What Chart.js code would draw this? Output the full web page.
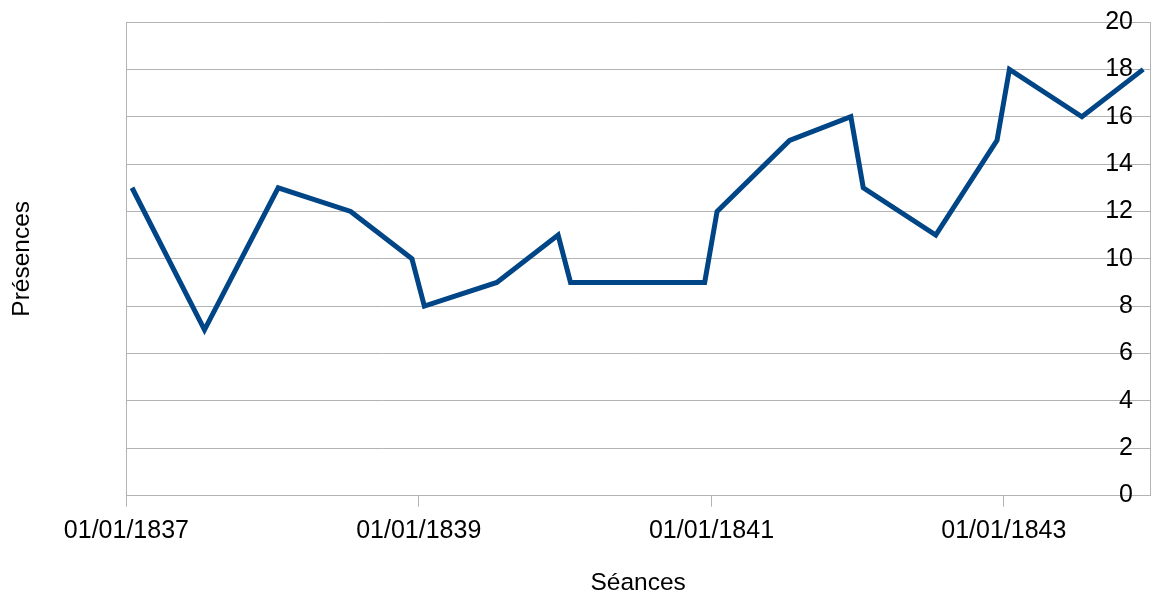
<!DOCTYPE html>
<html>
<head>
<meta charset="utf-8">
<script src="https://cdn.jsdelivr.net/npm/chart.js@4"></script>
<style>
  html, body { margin: 0; padding: 0; background: #fff; }
  #wrap { width: 1155px; height: 598px; }
</style>
</head>
<body>
<div id="wrap"><canvas id="chart"></canvas></div>
<script>
// dates of the sittings and attendance
const seances = [
  "1837-01-15", "1837-07-15", "1838-01-15", "1838-07-15", "1838-12-15",
  "1839-01-15", "1839-07-15", "1839-12-15", "1840-01-15", "1840-07-15",
  "1840-12-15", "1841-01-15", "1841-07-15", "1841-12-15", "1842-01-15",
  "1842-07-15", "1842-12-15", "1843-01-15", "1843-07-15", "1843-12-15"
];
const presences = [13, 7, 13, 12, 10, 8, 9, 11, 9, 9, 9, 12, 15, 16, 13, 11, 15, 18, 16, 18];
const xTickYears = [1837, 1839, 1841, 1843];
const xRange = [1837, 1844];

const toMs = s => Date.parse(s + "T00:00:00Z");
const yearMs = y => Date.UTC(y, 0, 1);
const pad2 = n => String(n).padStart(2, "0");

const gridGray = "#b3b3b3";
const font = "'Liberation Sans', Arial, sans-serif";

// LINE CHART
const chart = new Chart(document.getElementById("chart"), {
  type: "line",
  data: {
    datasets: [{
      data: seances.map((d, i) => ({ x: toMs(d), y: presences[i] })),
      borderColor: "#004586",
      borderWidth: 5,
      pointRadius: 0,
      tension: 0,
      borderJoinStyle: "miter"
    }]
  },
  options: {
    responsive: true,
    maintainAspectRatio: false,
    animation: false,
    layout: { padding: { top: 22, right: 5, bottom: 0, left: 0 } },
    plugins: { legend: { display: false }, tooltip: { enabled: false } },
    scales: {
      x: {
        type: "linear",
        min: yearMs(xRange[0]),
        max: yearMs(xRange[1]),
        afterBuildTicks: axis => {
          axis.ticks = xTickYears.map(y => ({ value: yearMs(y) }));
        },
        ticks: {
          autoSkip: false,
          maxRotation: 0,
          padding: 10,
          color: "#000",
          font: { family: font, size: 25 },
          callback: v => {
            const d = new Date(v);
            return pad2(d.getUTCDate()) + "/" + pad2(d.getUTCMonth() + 1) + "/" + d.getUTCFullYear();
          }
        },
        grid: {
          drawOnChartArea: false,
          color: gridGray,
          tickColor: gridGray,
          tickLength: 11
        },
        border: { display: true, color: gridGray },
        title: {
          display: true,
          text: "Séances",
          color: "#000",
          font: { family: font, size: 24.5 },
          padding: { top: 12, bottom: 0 }
        }
      },
      y: {
        position: "right",
        min: 0,
        max: 20,
        ticks: {
          stepSize: 2,
          mirror: true,
          padding: -17,
          color: "#000",
          font: { family: font, size: 25 }
        },
        grid: { color: gridGray, drawTicks: false },
        border: { display: true, color: gridGray }
      },
      yLeft: {
        position: "left",
        min: 0,
        max: 20,
        ticks: { display: false },
        grid: { display: false, drawTicks: false },
        border: { display: true, color: gridGray },
        title: {
          display: true,
          text: "Présences",
          color: "#000",
          font: { family: font, size: 24.5 },
          padding: { top: 8, bottom: 89 }
        }
      }
    }
  }
});
</script>
</body>
</html>
